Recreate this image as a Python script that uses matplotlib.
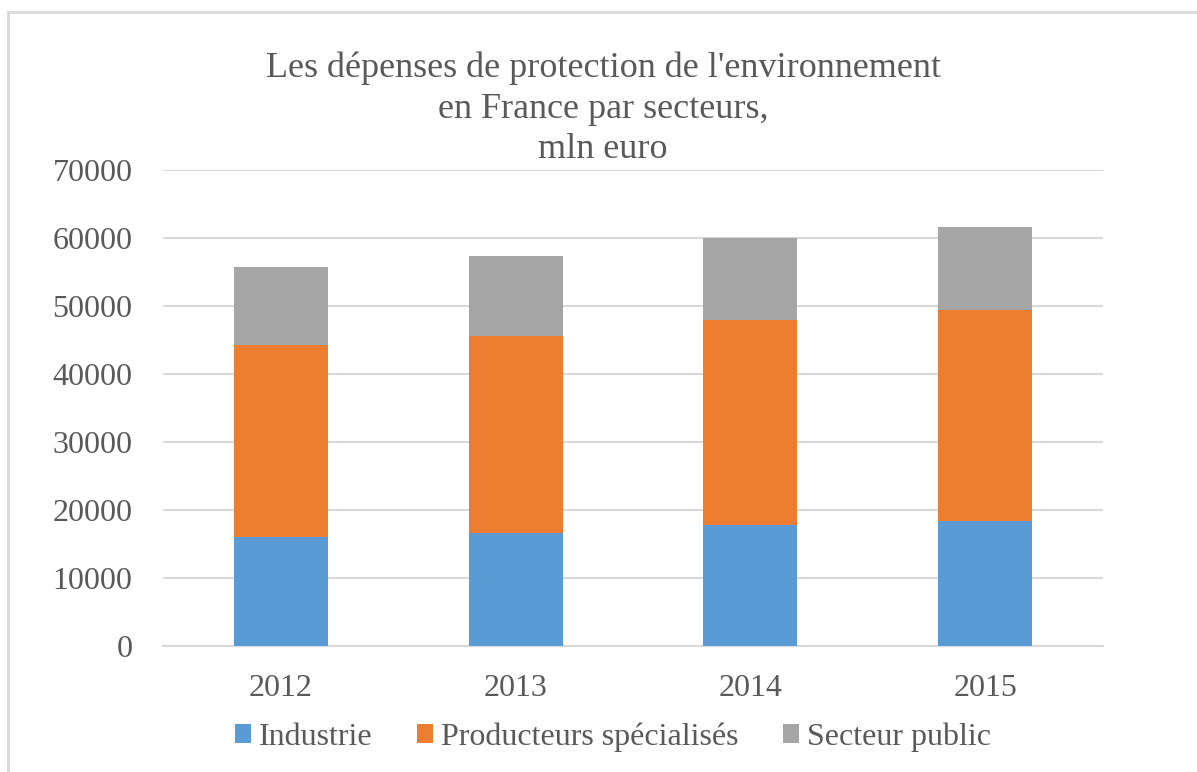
import matplotlib.pyplot as plt
import numpy as np
from matplotlib.lines import Line2D

annees = ['2012', '2013', '2014', '2015']
industrie = [16030, 16620, 17740, 18430]
producteurs = [28280, 29010, 30150, 30930]
secteur_public = [11430, 11660, 12050, 12300]

couleurs = ['#5B9BD5', '#ED7D31', '#A5A5A5']
noms = ['Industrie', 'Producteurs spécialisés', 'Secteur public']
texte = '#595959'

plt.rcParams['font.family'] = ['Liberation Serif', 'DejaVu Serif']

fig = plt.figure(figsize=(11.97, 7.72), dpi=100)
ax = fig.add_axes([163 / 1197, 1 - 646 / 772, 940 / 1197, 476 / 772])

x = np.arange(len(annees))
bas = np.zeros(len(annees))
for serie, c, nom in zip([industrie, producteurs, secteur_public], couleurs, noms):
    ax.bar(x, serie, width=0.4, bottom=bas, color=c, label=nom, zorder=3)
    bas += np.array(serie)

ax.set_xlim(-0.5, 3.5)
ax.set_ylim(0, 70000)
ax.set_yticks(range(0, 70001, 10000))
ax.set_xticks(x)
ax.set_xticklabels(annees)
ax.grid(axis='y', color='#D9D9D9', linewidth=1.5, zorder=0)
for s in ['top', 'right', 'left']:
    ax.spines[s].set_visible(False)
ax.spines['bottom'].set_color('#D9D9D9')
ax.spines['bottom'].set_linewidth(1.5)
ax.tick_params(axis='both', length=0, labelsize=23, labelcolor=texte)
ax.tick_params(axis='y', pad=22)
ax.tick_params(axis='x', pad=20)

fig.text(603 / 1197, 1 - 109 / 772,
         "Les dépenses de protection de l'environnement\nen France par secteurs,\nmln euro",
         ha='center', va='center', fontsize=26, color=texte, linespacing=1.3)

leg = fig.legend(loc='center', bbox_to_anchor=(613 / 1197, 1 - 737 / 772), ncol=3,
                 frameon=False, fontsize=23, handlelength=0.5, handleheight=0.5,
                 handletextpad=0.25, columnspacing=1.4)
for t in leg.get_texts():
    t.set_color(texte)

# cadre du graphique
fig.add_artist(Line2D([8 / 1197, 1], [1 - 12 / 772, 1 - 12 / 772], color='#D9D9D9', linewidth=2))
fig.add_artist(Line2D([8 / 1197, 8 / 1197], [0, 1 - 12 / 772], color='#D9D9D9', linewidth=2))

plt.savefig('out.png')
